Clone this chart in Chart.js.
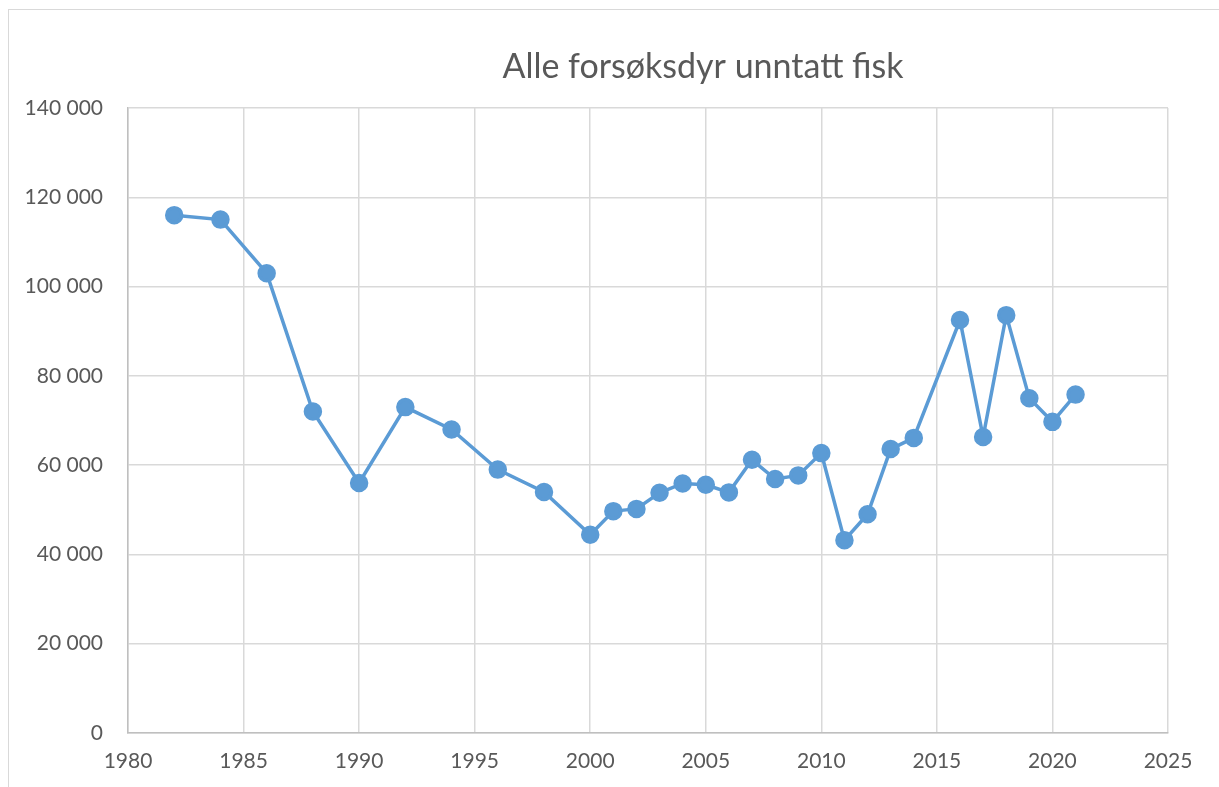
<!DOCTYPE html>
<html>
<head>
<meta charset="utf-8">
<script src="https://cdn.jsdelivr.net/npm/chart.js@4"></script>
<style>
html,body{margin:0;padding:0;background:#fff;}
#wrap{position:absolute;left:0;top:0;width:1219px;height:787px;}
</style>
</head>
<body>
<div id="wrap"><canvas id="c" width="1219" height="787"></canvas></div>
<script>
const title = "Alle forsøksdyr unntatt fisk";
const years = [1982,1984,1986,1988,1990,1992,1994,1996,1998,2000,2001,2002,2003,2004,2005,2006,2007,2008,2009,2010,2011,2012,2013,2014,2016,2017,2018,2019,2020,2021];
const animals = [116000,115000,103000,72000,56000,73000,68000,59000,54000,44400,49700,50200,53800,55900,55600,53900,61200,56900,57700,62700,43200,49000,63600,66100,92500,66300,93600,75000,69700,75800];
const xTicks = [1980,1985,1990,1995,2000,2005,2010,2015,2020,2025];
const yTicks = [0,20000,40000,60000,80000,100000,120000,140000];

const fmt = v => String(v).replace(/\B(?=(\d{3})+(?!\d))/g, ' ');
const FONT = 'Lato, "Open Sans", sans-serif';
const TXT = '#595959';

const framePlugin = {
  id: 'frame',
  beforeDraw(chart) {
    const ctx = chart.ctx;
    ctx.save();
    ctx.fillStyle = '#fff';
    ctx.fillRect(0, 0, chart.width, chart.height);
    ctx.strokeStyle = '#d9d9d9';
    ctx.lineWidth = 1;
    ctx.strokeRect(8.5, 9.5, 1400, 1000);
    ctx.restore();
  },
  afterDraw(chart) {
    const ctx = chart.ctx;
    ctx.save();
    ctx.fillStyle = TXT;
    ctx.font = '34px ' + FONT;
    ctx.textAlign = 'center';
    ctx.textBaseline = 'middle';
    ctx.fillText(title, 703, 67);
    ctx.restore();
  }
};

new Chart(document.getElementById('c'), {
  type: 'scatter',
  data: {
    datasets: [{
      data: years.map((y, i) => ({x: y, y: animals[i]})),
      showLine: true,
      borderColor: '#5b9bd5',
      backgroundColor: '#5b9bd5',
      borderWidth: 3.5,
      pointRadius: 7.5,
      pointHoverRadius: 7.5,
      tension: 0
    }]
  },
  options: {
    responsive: false,
    animation: false,
    layout: {padding: {left: 0, right: 51, top: 108, bottom: 0}},
    plugins: {legend: {display: false}, tooltip: {enabled: false}, title: {display: false}},
    scales: {
      x: {
        type: 'linear',
        min: 1980, max: 2025,
        afterBuildTicks: s => { s.ticks = xTicks.map(v => ({value: v})); },
        afterFit: s => { s.height = 54; },
        grid: {color: '#d9d9d9', lineWidth: 1.5, drawTicks: false},
        border: {color: '#bfbfbf', width: 1.5},
        ticks: {color: TXT, font: {family: FONT, size: 21}, padding: 16, maxRotation: 0, callback: v => String(v)}
      },
      y: {
        min: 0, max: 140000,
        afterBuildTicks: s => { s.ticks = yTicks.map(v => ({value: v})); },
        afterFit: s => { s.width = 128; },
        grid: {color: '#d9d9d9', lineWidth: 1.5, drawTicks: false},
        border: {color: '#bfbfbf', width: 1.5},
        ticks: {color: TXT, font: {family: FONT, size: 21}, padding: 25, callback: v => fmt(v)}
      }
    }
  },
  plugins: [framePlugin]
});
</script>
</body>
</html>
